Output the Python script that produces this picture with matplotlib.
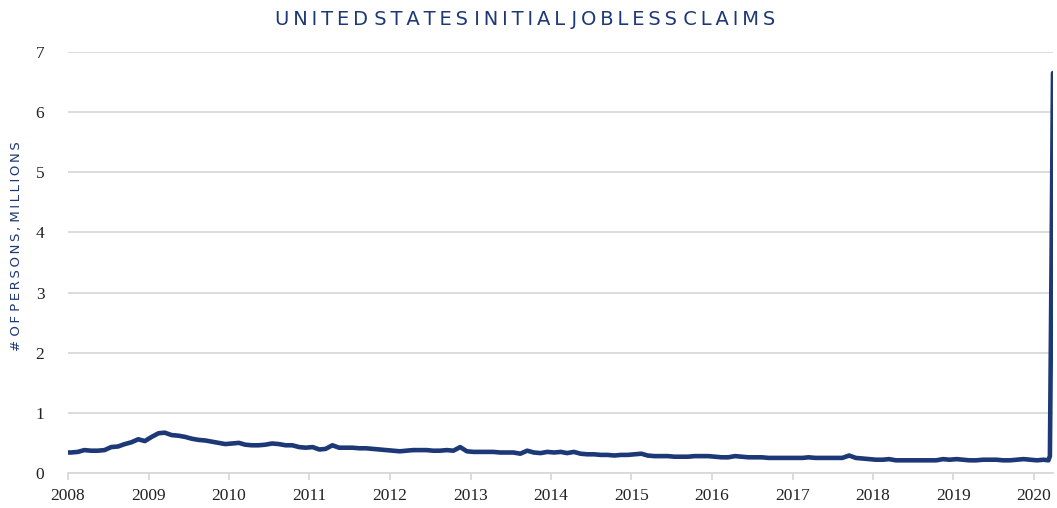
import matplotlib
matplotlib.use("Agg")
import matplotlib.pyplot as plt
import numpy as np
import pandas as pd

# Monthly values (millions of persons), Jan 2008 - Feb 2020
claims_2008 = [0.34, 0.35, 0.38, 0.37, 0.37, 0.38, 0.43, 0.44, 0.48, 0.51, 0.56, 0.53]
claims_2009 = [0.60, 0.66, 0.67, 0.63, 0.62, 0.60, 0.57, 0.55, 0.54, 0.52, 0.50, 0.48]
claims_2010 = [0.49, 0.50, 0.47, 0.46, 0.46, 0.47, 0.49, 0.48, 0.46, 0.46, 0.43, 0.42]
claims_2011 = [0.43, 0.39, 0.40, 0.46, 0.42, 0.42, 0.42, 0.41, 0.41, 0.40, 0.39, 0.38]
claims_2012 = [0.37, 0.36, 0.37, 0.38, 0.38, 0.38, 0.37, 0.37, 0.38, 0.37, 0.43, 0.36]
claims_2013 = [0.35, 0.35, 0.35, 0.35, 0.34, 0.34, 0.34, 0.32, 0.37, 0.34, 0.33, 0.35]
claims_2014 = [0.34, 0.35, 0.33, 0.35, 0.32, 0.31, 0.31, 0.30, 0.30, 0.29, 0.30, 0.30]
claims_2015 = [0.31, 0.32, 0.29, 0.28, 0.28, 0.28, 0.27, 0.27, 0.27, 0.28, 0.28, 0.28]
claims_2016 = [0.27, 0.26, 0.26, 0.28, 0.27, 0.26, 0.26, 0.26, 0.25, 0.25, 0.25, 0.25]
claims_2017 = [0.25, 0.25, 0.26, 0.25, 0.25, 0.25, 0.25, 0.25, 0.29, 0.25, 0.24, 0.23]
claims_2018 = [0.22, 0.22, 0.23, 0.21, 0.21, 0.21, 0.21, 0.21, 0.21, 0.21, 0.23, 0.22]
claims_2019 = [0.23, 0.22, 0.21, 0.21, 0.22, 0.22, 0.22, 0.21, 0.21, 0.22, 0.23, 0.22]
claims_2020 = [0.21, 0.22]
# Weekly values for March 2020
march_2020_dates = ["2020-03-07", "2020-03-14", "2020-03-21", "2020-03-28"]
march_2020_values = [0.21, 0.28, 3.31, 6.65]

monthly_values = (claims_2008 + claims_2009 + claims_2010 + claims_2011 + claims_2012
                  + claims_2013 + claims_2014 + claims_2015 + claims_2016 + claims_2017
                  + claims_2018 + claims_2019 + claims_2020)
monthly_dates = pd.date_range("2008-01-01", periods=len(monthly_values), freq="MS") + pd.Timedelta(days=14)
monthly_dates = monthly_dates.insert(0, pd.Timestamp("2008-01-01"))
monthly_values = [claims_2008[0]] + monthly_values

dates = list(monthly_dates) + [pd.Timestamp(d) for d in march_2020_dates]
values = monthly_values + march_2020_values

year_ticks = [pd.Timestamp(f"{y}-01-01") for y in range(2008, 2021)]
year_labels = [str(y) for y in range(2008, 2021)]
y_ticks = [0, 1, 2, 3, 4, 5, 6, 7]

title_text = "UNITED STATES INITIAL JOBLESS CLAIMS"
ylabel_text = "# OF PERSONS, MILLIONS"

navy = "#1d3877"
grid = "#d9d9d9"


def spaced(s):
    # letter-spaced text using thin spaces between letters of each word
    return " ".join("\u2009".join(w) for w in s.split(" "))


fig = plt.figure(figsize=(10.57, 5.08), dpi=100)
ax = fig.add_axes([0.0643, 0.069, 0.9319, 0.8287])

ax.plot(dates, values, color=navy, linewidth=3.3, solid_joinstyle="round",
        solid_capstyle="round", zorder=3)

ax.set_xlim(pd.Timestamp("2008-01-01"), pd.Timestamp("2020-03-28"))
ax.set_ylim(0, 7)
ax.set_xticks(year_ticks)
ax.set_xticklabels(year_labels, fontfamily="Liberation Serif", fontsize=12.5, color="#222222")
ax.set_yticks(y_ticks)
ax.set_yticklabels([str(v) for v in y_ticks], fontfamily="Liberation Serif", fontsize=12.5,
                   color="#222222")

ax.grid(axis="y", color=grid, linewidth=1.3, zorder=0)
ax.set_axisbelow(True)
for s in ["top", "right", "left"]:
    ax.spines[s].set_visible(False)
ax.spines["bottom"].set_color(grid)
ax.spines["bottom"].set_linewidth(1.3)
ax.tick_params(axis="y", length=0, pad=17)
ax.tick_params(axis="x", length=5, width=1.3, color=grid, pad=6)

fig.text(0.497, 0.962, spaced(title_text), ha="center", va="center",
         fontfamily="DejaVu Sans", fontsize=14, color=navy)
fig.text(0.016, 0.516, spaced(ylabel_text), rotation=90, ha="center", va="center",
         fontfamily="DejaVu Sans", fontsize=9.5, color=navy)

fig.savefig("out.png", dpi=100)
